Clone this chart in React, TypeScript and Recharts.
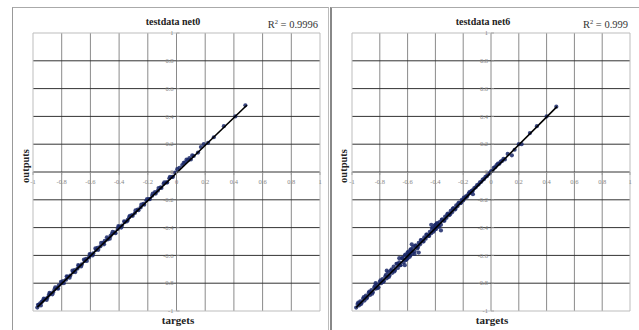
import React from "react";
import {
  ScatterChart,
  Scatter,
  XAxis,
  YAxis,
  CartesianGrid,
  ReferenceArea,
} from "recharts";

// ---------- data ----------
const axisTicks = [-1, -0.8, -0.6, -0.4, -0.2, 0, 0.2, 0.4, 0.6, 0.8, 1];
const gridValues = [-0.8, -0.6, -0.4, -0.2, 0, 0.2, 0.4, 0.6, 0.8];

const panelTitles = ["testdata net0", "testdata net6"];
const rSquaredValues = ["0.9996", "0.999"];

// [target, output]
const net0Points: [number, number][] = [
  [-0.97, -0.975], [-0.96, -0.955], [-0.95, -0.945], [-0.94, -0.935], [-0.93, -0.925],
  [-0.92, -0.915], [-0.9, -0.905], [-0.89, -0.885], [-0.88, -0.875], [-0.86, -0.865],
  [-0.85, -0.845], [-0.83, -0.835], [-0.82, -0.815], [-0.8, -0.8], [-0.79, -0.785],
  [-0.77, -0.775], [-0.76, -0.755], [-0.74, -0.745], [-0.72, -0.72], [-0.71, -0.705],
  [-0.69, -0.695], [-0.68, -0.675], [-0.66, -0.665], [-0.64, -0.64], [-0.63, -0.625],
  [-0.61, -0.615], [-0.6, -0.595], [-0.58, -0.585], [-0.56, -0.56], [-0.55, -0.545],
  [-0.53, -0.535], [-0.51, -0.51], [-0.5, -0.495], [-0.48, -0.485], [-0.46, -0.46],
  [-0.45, -0.445], [-0.43, -0.435], [-0.41, -0.41], [-0.4, -0.395], [-0.38, -0.385],
  [-0.36, -0.36], [-0.34, -0.345], [-0.33, -0.325], [-0.31, -0.31], [-0.29, -0.295],
  [-0.27, -0.27], [-0.25, -0.255], [-0.23, -0.23], [-0.21, -0.205], [-0.19, -0.195],
  [-0.17, -0.17], [-0.15, -0.145], [-0.13, -0.135], [-0.11, -0.11], [-0.09, -0.085],
  [-0.07, -0.075], [-0.05, -0.045], [-0.03, -0.035], [-0.01, -0.005], [0.02, 0.03],
  [0.04, 0.05], [0.06, 0.07], [0.08, 0.085], [0.1, 0.09], [0.12, 0.115],
  [0.15, 0.14], [0.19, 0.2], [0.22, 0.21], [0.26, 0.25], [0.33, 0.33],
  [0.41, 0.4], [0.48, 0.48],
  [-0.965, -0.955], [-0.945, -0.96], [-0.925, -0.91], [-0.905, -0.92], [-0.885, -0.87],
  [-0.865, -0.88], [-0.845, -0.83], [-0.825, -0.84], [-0.805, -0.79], [-0.785, -0.8],
  [-0.765, -0.75], [-0.745, -0.76], [-0.725, -0.71], [-0.705, -0.72], [-0.685, -0.67],
  [-0.665, -0.68], [-0.645, -0.63], [-0.625, -0.64], [-0.605, -0.59], [-0.585, -0.6],
  [-0.565, -0.55], [-0.545, -0.56], [-0.525, -0.51], [-0.505, -0.52], [-0.485, -0.47],
  [-0.465, -0.48], [-0.445, -0.43], [-0.425, -0.44], [-0.405, -0.39], [-0.385, -0.4],
  [-0.365, -0.355], [-0.345, -0.355], [-0.325, -0.315], [-0.305, -0.315], [-0.285, -0.275],
  [-0.265, -0.275], [-0.245, -0.235], [-0.225, -0.235], [-0.205, -0.195], [-0.185, -0.195],
  [-0.165, -0.155], [-0.145, -0.155], [-0.125, -0.115], [-0.105, -0.115], [-0.085, -0.075],
  [-0.065, -0.075], [-0.045, -0.035], [-0.025, -0.035], [0.005, 0.02], [0.05, 0.065],
  [0.07, 0.09], [0.09, 0.1], [0.11, 0.12], [0.17, 0.18],
];

const net6Points: [number, number][] = [
  [-0.97, -0.975], [-0.96, -0.95], [-0.95, -0.96], [-0.94, -0.93], [-0.93, -0.94],
  [-0.92, -0.91], [-0.91, -0.925], [-0.9, -0.89], [-0.89, -0.9], [-0.88, -0.87],
  [-0.87, -0.885], [-0.86, -0.85], [-0.85, -0.865], [-0.84, -0.83], [-0.83, -0.84],
  [-0.82, -0.81], [-0.81, -0.83], [-0.8, -0.79], [-0.79, -0.8], [-0.78, -0.77],
  [-0.77, -0.785], [-0.76, -0.75], [-0.75, -0.765], [-0.74, -0.72], [-0.73, -0.745],
  [-0.72, -0.71], [-0.71, -0.725], [-0.7, -0.68], [-0.69, -0.705], [-0.68, -0.66],
  [-0.67, -0.69], [-0.66, -0.65], [-0.65, -0.67], [-0.64, -0.62], [-0.63, -0.65],
  [-0.62, -0.6], [-0.61, -0.63], [-0.6, -0.58], [-0.6, -0.62], [-0.59, -0.59],
  [-0.58, -0.56], [-0.58, -0.6], [-0.57, -0.57], [-0.56, -0.54], [-0.55, -0.57],
  [-0.54, -0.53], [-0.53, -0.55], [-0.52, -0.51], [-0.51, -0.52], [-0.5, -0.49],
  [-0.49, -0.5], [-0.48, -0.47], [-0.47, -0.48], [-0.46, -0.45], [-0.45, -0.46],
  [-0.44, -0.43], [-0.43, -0.44], [-0.42, -0.4], [-0.41, -0.42], [-0.4, -0.38],
  [-0.4, -0.41], [-0.39, -0.37], [-0.38, -0.39], [-0.37, -0.36], [-0.36, -0.38],
  [-0.35, -0.34], [-0.34, -0.35], [-0.33, -0.32], [-0.32, -0.33], [-0.31, -0.3],
  [-0.3, -0.31], [-0.29, -0.28], [-0.28, -0.29], [-0.27, -0.26], [-0.26, -0.27],
  [-0.25, -0.24], [-0.24, -0.245], [-0.23, -0.22], [-0.22, -0.225], [-0.21, -0.2],
  [-0.2, -0.205], [-0.19, -0.19], [-0.18, -0.175], [-0.17, -0.17], [-0.16, -0.155],
  [-0.15, -0.15], [-0.14, -0.135], [-0.13, -0.13], [-0.12, -0.115], [-0.11, -0.11],
  [-0.1, -0.095], [-0.09, -0.09], [-0.08, -0.075], [-0.07, -0.07], [-0.06, -0.055],
  [-0.05, -0.05], [-0.04, -0.035], [-0.03, -0.03], [-0.02, -0.015], [-0.01, -0.01],
  [0.0, 0.005], [0.01, 0.01], [0.02, 0.03], [0.03, 0.035], [0.04, 0.05],
  [0.05, 0.06], [0.06, 0.06], [0.07, 0.075], [0.08, 0.08], [0.09, 0.095],
  [0.1, 0.09], [0.12, 0.13], [0.15, 0.12], [0.17, 0.16], [0.2, 0.2],
  [0.22, 0.2], [0.28, 0.28], [0.33, 0.33], [0.4, 0.4], [0.47, 0.47],
  [-0.955, -0.94], [-0.935, -0.95], [-0.915, -0.9], [-0.895, -0.91], [-0.875, -0.86],
  [-0.855, -0.875], [-0.835, -0.82], [-0.815, -0.835], [-0.795, -0.78], [-0.775, -0.79],
  [-0.755, -0.74], [-0.735, -0.755], [-0.715, -0.7], [-0.695, -0.715], [-0.675, -0.66],
  [-0.655, -0.67], [-0.635, -0.62], [-0.615, -0.635], [-0.595, -0.575], [-0.585, -0.61],
  [-0.575, -0.555], [-0.565, -0.585], [-0.615, -0.595], [-0.605, -0.625], [-0.595, -0.6],
  [-0.545, -0.53], [-0.525, -0.54], [-0.505, -0.49], [-0.485, -0.5], [-0.465, -0.45],
  [-0.445, -0.46], [-0.425, -0.41], [-0.415, -0.43], [-0.405, -0.385], [-0.395, -0.41],
  [-0.385, -0.37], [-0.375, -0.395], [-0.395, -0.39], [-0.355, -0.345], [-0.335, -0.35],
  [-0.315, -0.305], [-0.295, -0.305], [-0.275, -0.265], [-0.255, -0.265], [-0.235, -0.225],
  [-0.215, -0.22], [-0.195, -0.185], [-0.175, -0.18], [-0.155, -0.145], [-0.135, -0.14],
  [-0.57, -0.52], [-0.62, -0.67], [-0.36, -0.42], [-0.52, -0.58], [-0.43, -0.38],
  [-0.75, -0.71], [-0.83, -0.8], [-0.66, -0.62], [-0.55, -0.59], [-0.13, -0.16],
];

const net0Trend: [number, number][] = [[-0.97, -0.972], [0.49, 0.48]];
const net6Trend: [number, number][] = [[-0.97, -0.975], [0.475, 0.47]];

const toRows = (pts: [number, number][]) => pts.map(([t, o]) => ({ t, o }));

// ---------- styles ----------
const SERIF = "'Liberation Serif', 'Times New Roman', serif";
const DOT = "#1a2868";

const fmt = (v: number) => (v === 0 ? "0" : String(v));

const XTick = (props: any) => {
  const { x, payload, zeroY } = props;
  return (
    <g>
      <line x1={x} x2={x} y1={zeroY} y2={zeroY + 3} stroke="#999" strokeWidth={0.8} />
      <text x={x} y={zeroY + 12} textAnchor="middle" fontSize={6.5} fill="#888" fontFamily={SERIF}>
        {fmt(payload.value)}
      </text>
    </g>
  );
};

const YTick = (props: any) => {
  const { y, payload, zeroX } = props;
  return (
    <g>
      <line x1={zeroX} x2={zeroX + 3} y1={y} y2={y} stroke="#999" strokeWidth={0.8} />
      <text x={zeroX - 3} y={y + 2.2} textAnchor="end" fontSize={6.5} fill="#888" fontFamily={SERIF}>
        {fmt(payload.value)}
      </text>
    </g>
  );
};

const Dot = (props: any) => {
  const { cx, cy } = props;
  if (cx == null || cy == null) return <g />;
  return <circle cx={cx} cy={cy} r={2.1} fill={DOT} fillOpacity={0.85} />;
};

type PanelProps = {
  left: number;
  width: number;
  margin: { top: number; left: number; right: number; bottom: number };
  points: [number, number][];
  trend: [number, number][];
  title: string;
  r2: string;
  titleX: number;
  r2X: number;
  outputsX: number;
  targetsX: number;
};

const Panel = (p: PanelProps) => {
  const H = 330;
  const plotW = p.width - p.margin.left - p.margin.right - 1;
  const plotH = H - p.margin.top - p.margin.bottom - 1;
  const zeroX = p.margin.left + 1 + plotW / 2;
  const zeroY = p.margin.top + plotH / 2;
  return (
    <div style={{ position: "absolute", left: p.left, top: 0, width: p.width, height: H }}>
      <ScatterChart width={p.width} height={H} margin={p.margin}>
        <XAxis
          type="number"
          dataKey="t"
          domain={[-1, 1]}
          ticks={axisTicks}
          height={1}
          axisLine={false}
          tickLine={false}
          tick={<XTick zeroY={zeroY} />}
          interval={0}
          allowDataOverflow
        />
        <YAxis
          type="number"
          dataKey="o"
          domain={[-1, 1]}
          ticks={axisTicks}
          width={1}
          axisLine={false}
          tickLine={false}
          tick={<YTick zeroX={zeroX} />}
          interval={0}
          allowDataOverflow
        />
        <CartesianGrid horizontal={false} verticalValues={gridValues} stroke="#8a8a8a" strokeWidth={1} />
        <CartesianGrid vertical={false} horizontalValues={gridValues} stroke="#333" strokeWidth={1} />
        <ReferenceArea x1={-1} x2={1} y1={-1} y2={1} fill="none" stroke="#bdbdbd" strokeWidth={1} />
        <Scatter data={toRows(p.points)} shape={<Dot />} isAnimationActive={false} />
        <Scatter
          data={toRows(p.trend)}
          line={{ stroke: "#000", strokeWidth: 1.6 }}
          shape={() => <g />}
          isAnimationActive={false}
        />
      </ScatterChart>
      <svg
        width={p.width}
        height={H}
        style={{ position: "absolute", left: 0, top: 0, pointerEvents: "none" }}
      >
        <text x={p.titleX} y={25} textAnchor="middle" fontFamily={SERIF} fontWeight="bold" fontSize={10} fill="#222">
          {p.title}
        </text>
        <text x={p.r2X} y={28} textAnchor="end" fontFamily={SERIF} fontSize={10.5} fill="#333">
          R<tspan dy={-4} fontSize={6.5}>2</tspan>
          <tspan dy={4}> = {p.r2}</tspan>
        </text>
        <text
          x={p.outputsX}
          y={166}
          textAnchor="middle"
          fontFamily={SERIF}
          fontWeight="bold"
          fontSize={10.5}
          fill="#222"
          transform={`rotate(-90 ${p.outputsX} 166)`}
        >
          outputs
        </text>
        <text x={p.targetsX} y={324} textAnchor="middle" fontFamily={SERIF} fontWeight="bold" fontSize={11} fill="#222">
          targets
        </text>
      </svg>
    </div>
  );
};

export default function App() {
  return (
    <div
      style={{
        position: "absolute",
        left: 0,
        top: 0,
        width: 639,
        height: 330,
        background: "#fff",
        overflow: "hidden",
      }}
    >
      <div
        style={{
          position: "absolute",
          left: 12,
          top: 7,
          width: 315,
          height: 340,
          borderLeft: "1px solid #999",
          borderTop: "1px solid #aaa",
          borderRight: "1px solid #bbb",
        }}
      />
      <div
        style={{
          position: "absolute",
          left: 330,
          top: 7,
          width: 320,
          height: 340,
          borderLeft: "2px solid #888",
          borderTop: "1px solid #aaa",
        }}
      />
      <Panel
        left={0}
        width={330}
        margin={{ top: 33, left: 32, right: 10, bottom: 18 }}
        points={net0Points}
        trend={net0Trend}
        title={panelTitles[0]}
        r2={rSquaredValues[0]}
        titleX={173}
        r2X={318}
        outputsX={29}
        targetsX={178}
      />
      <Panel
        left={320}
        width={319}
        margin={{ top: 33, left: 31, right: 9, bottom: 18 }}
        points={net6Points}
        trend={net6Trend}
        title={panelTitles[1]}
        r2={rSquaredValues[1]}
        titleX={163}
        r2X={308}
        outputsX={27}
        targetsX={172}
      />
    </div>
  );
}
